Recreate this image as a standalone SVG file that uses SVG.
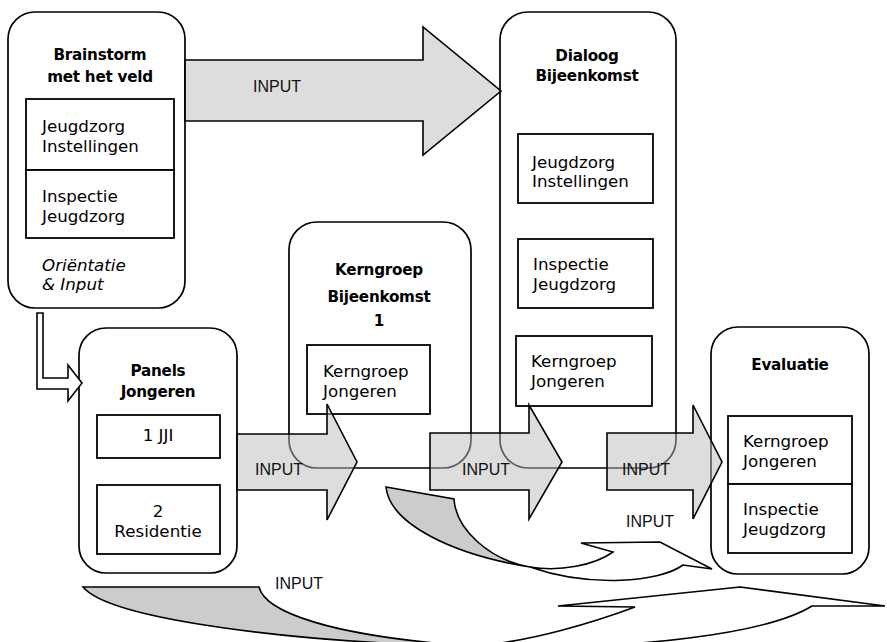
<svg xmlns="http://www.w3.org/2000/svg" width="887" height="642" viewBox="0 0 887 642">
<style>
.box{fill:#fff;stroke:#000;stroke-width:1.7}
.inner{fill:#fff;stroke:#000;stroke-width:1.8}
.t{font-family:"DejaVu Sans","Verdana",sans-serif;font-size:16.7px;fill:#000}
.b{font-family:"DejaVu Sans","Verdana",sans-serif;font-size:15.2px;letter-spacing:-0.25px;font-weight:bold;fill:#000;text-anchor:middle}
.i{font-style:italic}
.c{text-anchor:middle}
.arr{fill:#bcbcbc;fill-opacity:0.5;stroke:#000;stroke-width:1.6;stroke-linejoin:miter}
.hollow{fill:#fff;stroke:#000;stroke-width:1.6}
.back{fill:#cccccc;stroke:#000;stroke-width:1.6}
.front{fill:#fff;stroke:#000;stroke-width:1.6}
.lbl{font-family:"Liberation Sans","Arial",sans-serif;font-size:16px;fill:#111}
</style>

<g id="brainstorm">
<rect class="box" x="8" y="12" width="177" height="296" rx="27"/>
<text class="b" x="100" y="60">Brainstorm</text>
<text class="b" x="100" y="82">met het veld</text>
<rect class="inner" x="26" y="99" width="148" height="71"/>
<rect class="inner" x="26" y="170" width="148" height="68"/>
<text class="t" x="42" y="132">Jeugdzorg</text>
<text class="t" x="42" y="152">Instellingen</text>
<text class="t" x="42" y="202">Inspectie</text>
<text class="t" x="42" y="222">Jeugdzorg</text>
<text class="t i" x="42" y="271">Oriëntatie</text>
<text class="t i" x="42" y="290">&amp; Input</text>
</g>

<g id="dialoog">
<rect class="box" x="500" y="12" width="176" height="456" rx="28"/>
<text class="b" x="587" y="61">Dialoog</text>
<text class="b" x="587" y="81">Bijeenkomst</text>
<rect class="inner" x="518" y="134" width="135" height="69"/>
<text class="t" x="532" y="168">Jeugdzorg</text>
<text class="t" x="532" y="187">Instellingen</text>
<rect class="inner" x="518" y="239" width="135" height="69"/>
<text class="t" x="533" y="270">Inspectie</text>
<text class="t" x="533" y="290">Jeugdzorg</text>
<rect class="inner" x="516" y="336" width="136" height="70"/>
<text class="t" x="531" y="367">Kerngroep</text>
<text class="t" x="531" y="387">Jongeren</text>
</g>

<g id="kerngroep">
<rect class="box" x="289" y="222" width="182" height="246" rx="28"/>
<text class="b" x="379" y="275">Kerngroep</text>
<text class="b" x="379" y="302">Bijeenkomst</text>
<text class="b" x="379" y="326">1</text>
<rect class="inner" x="307" y="345" width="123" height="69"/>
<text class="t" x="323" y="377">Kerngroep</text>
<text class="t" x="323" y="397">Jongeren</text>
</g>

<g id="panels">
<rect class="box" x="79" y="328" width="158" height="245" rx="27"/>
<text class="b" x="158" y="376">Panels</text>
<text class="b" x="158" y="397">Jongeren</text>
<rect class="inner" x="97" y="415" width="123" height="43"/>
<text class="t c" x="158" y="441">1 JJI</text>
<rect class="inner" x="97" y="485" width="123" height="69"/>
<text class="t c" x="158" y="517">2</text>
<text class="t c" x="158" y="537">Residentie</text>
</g>

<g id="evaluatie">
<rect class="box" x="711" y="327" width="158" height="247" rx="27"/>
<text class="b" x="790" y="370">Evaluatie</text>
<rect class="inner" x="728" y="416" width="124" height="68"/>
<rect class="inner" x="728" y="484" width="124" height="69"/>
<text class="t" x="743" y="447">Kerngroep</text>
<text class="t" x="743" y="467">Jongeren</text>
<text class="t" x="743" y="515">Inspectie</text>
<text class="t" x="743" y="535">Jeugdzorg</text>
</g>

<g id="connectors">
<polygon class="arr" points="185,60 423,60 423,27 501,91 423,155 423,121 185,121"/>
<polygon class="hollow" points="37,313 43,313 43,378 68,378 68,365 82,383 68,401 68,389 37,389"/>
<polygon class="arr" points="237,434 327,434 327,404 357,462 327,520 327,490 237,490"/>
<polygon class="arr" points="430,433 529,433 529,405 562,462 529,519 529,490 430,490"/>
<polygon class="arr" points="607,433 693,433 693,405 722,462 693,519 693,490 607,490"/>

<path class="back" d="M386,487 L454,499 C456,530 490,560 530,567 C455,555 390,525 386,487 Z"/>
<path class="front" d="M530,567 C560,572 595,565 613,552 L581,543 L660,542 L712,569 L683,565 C660,582 590,588 530,567 Z"/>

<path class="back" d="M83,587 L259,587 C265,612 330,636 470,646 C300,643 110,620 83,587 Z"/>
<path class="front" d="M470,646 C530,643 600,620 635,607 L558,606 L740,587 L885,606 L812,606 C770,632 640,652 470,646 Z"/>

<text class="lbl" x="253" y="92">INPUT</text>
<text class="lbl" x="255" y="475">INPUT</text>
<text class="lbl" x="462" y="475">INPUT</text>
<text class="lbl" x="622" y="475">INPUT</text>
<text class="lbl" x="626" y="527">INPUT</text>
<text class="lbl" x="275" y="589">INPUT</text>
</g>
</svg>
